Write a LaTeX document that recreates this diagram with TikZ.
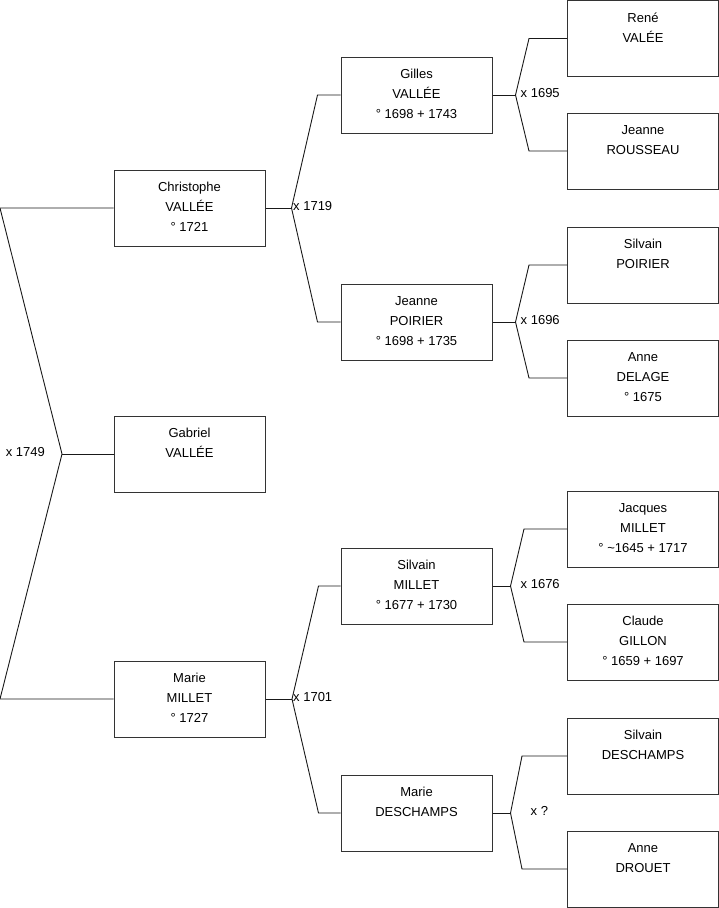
\documentclass[tikz,border=0pt]{standalone}
\usepackage{fontspec}
\setmainfont{Liberation Sans}
\usetikzlibrary{positioning}

\begin{document}
\begin{tikzpicture}[
    x=1pt, y=-1pt,
    person/.style={
        rectangle,
        draw=black!80,
        line width=1pt,
        minimum width=151pt,
        minimum height=76pt,
        inner sep=0pt
    },
    who/.style={
        font=\fontsize{13pt}{20pt}\selectfont,
        align=center,
        inner sep=0pt
    },
    union/.style={
        font=\fontsize{13pt}{16pt}\selectfont,
        inner sep=0pt,
        yshift=2pt
    },
    link/.style={
        draw=black!90,
        line width=0.9pt
    }
]

\useasboundingbox (0,0) rectangle (719,908);

% Child and parents
\node[person] (christophe) at (189.5,208) {};
\node[who, below=12.5pt of christophe.north] (christophe-t) {Christophe\\VALLÉE\\° 1721};
\node[person] (gabriel) at (189.5,454) {};
\node[who, below=12.5pt of gabriel.north] (gabriel-t) {Gabriel\\VALLÉE};
\node[person] (marieM) at (189.5,699) {};
\node[who, below=12.5pt of marieM.north] (marieM-t) {Marie\\MILLET\\° 1727};

% Grandparents
\node[person] (gilles) at (416.5,95) {};
\node[who, below=12.5pt of gilles.north] (gilles-t) {Gilles\\VALLÉE\\° 1698 + 1743};
\node[person] (jeanneP) at (416.5,322) {};
\node[who, below=12.5pt of jeanneP.north] (jeanneP-t) {Jeanne\\POIRIER\\° 1698 + 1735};
\node[person] (silvainM) at (416.5,586) {};
\node[who, below=12.5pt of silvainM.north] (silvainM-t) {Silvain\\MILLET\\° 1677 + 1730};
\node[person] (marieD) at (416.5,813) {};
\node[who, below=12.5pt of marieD.north] (marieD-t) {Marie\\DESCHAMPS};

% Great-grandparents
\node[person] (rene) at (643,38.5) {};
\node[who, below=12.5pt of rene.north] (rene-t) {René\\VALÉE};
\node[person] (jeanneR) at (643,151) {};
\node[who, below=12.5pt of jeanneR.north] (jeanneR-t) {Jeanne\\ROUSSEAU};
\node[person] (silvainP) at (643,265) {};
\node[who, below=12.5pt of silvainP.north] (silvainP-t) {Silvain\\POIRIER};
\node[person] (anneDL) at (643,378) {};
\node[who, below=12.5pt of anneDL.north] (anneDL-t) {Anne\\DELAGE\\° 1675};
\node[person] (jacques) at (643,529) {};
\node[who, below=12.5pt of jacques.north] (jacques-t) {Jacques\\MILLET\\° \textasciitilde 1645 + 1717};
\node[person] (claude) at (643,642) {};
\node[who, below=12.5pt of claude.north] (claude-t) {Claude\\GILLON\\° 1659 + 1697};
\node[person] (silvainD) at (643,756) {};
\node[who, below=12.5pt of silvainD.north] (silvainD-t) {Silvain\\DESCHAMPS};
\node[person] (anneDR) at (643,869) {};
\node[who, below=12.5pt of anneDR.north] (anneDR-t) {Anne\\DROUET};

% Marriage 1749
\coordinate (m1749) at (62,454);
\coordinate (c1749a) at (0,208);
\coordinate (c1749b) at (0,699);
\draw[link] (christophe.west) -- (c1749a) -- (m1749) -- (c1749b) -- (marieM.west);
\draw[link] (m1749) -- (gabriel.west);
\node[union, left=17pt of m1749] (l1749) {x 1749};

% Marriages 1719 and 1701
\coordinate (m1719) at ([xshift=26pt]christophe.east);
\draw[link] (christophe.east) -- (m1719);
\draw[link] (gilles.west) -- ++(-23,0) -- (m1719) -- ([xshift=-23pt]jeanneP.west) -- (jeanneP.west);
\node[union, right=27.5pt of christophe.east] (l1719) {x 1719};

\coordinate (m1701) at ([xshift=26.5pt]marieM.east);
\draw[link] (marieM.east) -- (m1701);
\draw[link] (silvainM.west) -- ++(-22,0) -- (m1701) -- ([xshift=-22pt]marieD.west) -- (marieD.west);
\node[union, right=27.5pt of marieM.east] (l1701) {x 1701};

% Marriages of the great-grandparents
\coordinate (m1695) at ([xshift=23pt]gilles.east);
\draw[link] (gilles.east) -- (m1695);
\draw[link] (rene.west) -- ++(-38,0) -- (m1695) -- ([xshift=-38pt]jeanneR.west) -- (jeanneR.west);
\node[union, right=28pt of gilles.east] (l1695) {x 1695};

\coordinate (m1696) at ([xshift=23pt]jeanneP.east);
\draw[link] (jeanneP.east) -- (m1696);
\draw[link] (silvainP.west) -- ++(-38,0) -- (m1696) -- ([xshift=-38pt]anneDL.west) -- (anneDL.west);
\node[union, right=28pt of jeanneP.east] (l1696) {x 1696};

\coordinate (m1676) at ([xshift=18pt]silvainM.east);
\draw[link] (silvainM.east) -- (m1676);
\draw[link] (jacques.west) -- ++(-43,0) -- (m1676) -- ([xshift=-43pt]claude.west) -- (claude.west);
\node[union, right=28pt of silvainM.east] (l1676) {x 1676};

\coordinate (mq) at ([xshift=18pt]marieD.east);
\draw[link] (marieD.east) -- (mq);
\draw[link] (silvainD.west) -- ++(-45,0) -- (mq) -- ([xshift=-45pt]anneDR.west) -- (anneDR.west);
\node[union, right=38pt of marieD.east] (lq) {x ?};

\end{tikzpicture}
\end{document}
